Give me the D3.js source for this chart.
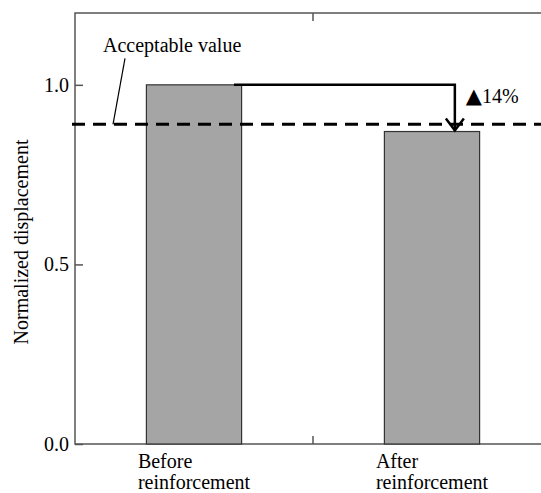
<!DOCTYPE html>
<html>
<head>
<meta charset="utf-8">
<script src="https://cdn.jsdelivr.net/npm/d3@7"></script>
<style>
  body { margin: 0; background: #fff; }
  svg { display: block; }
  text { font-family: 'Liberation Serif', 'Times New Roman', serif; fill: #000; }
</style>
</head>
<body>
<svg width="541" height="493"></svg>
<script>
const categories = ['Before reinforcement', 'After reinforcement'];
const categoryLines = [['Before', 'reinforcement'], ['After', 'reinforcement']];
const values = [1.0, 0.87];
const yTicks = [0, 0.5, 1.0];
const acceptable = 0.89;
const acceptableLabel = 'Acceptable value';
const reductionMark = '▲';
const reductionLabel = '14%';
const yLabel = 'Normalized displacement';

const LEFT = 75, RIGHT = 551, TOP = 13, BOTTOM = 444;
const FONT = 20;

const svg = d3.select('svg');

const x = d3.scaleBand().domain(categories).range([LEFT, RIGHT]).padding(0);
const y = d3.scaleLinear().domain([0, 1.2]).range([BOTTOM, TOP]);
const barW = x.bandwidth() * 0.4;
const barX = c => x(c) + (x.bandwidth() - barW) / 2;

// frame
const axisColor = '#555';
svg.append('path')
    .attr('d', `M${541},${TOP}H${LEFT}V${BOTTOM}H541`)
    .attr('fill', 'none')
    .attr('stroke', axisColor)
    .attr('stroke-width', 1.5);

// boundary ticks (inward) on bottom and top
const bx = x(categories[1]);
svg.append('line').attr('x1', bx).attr('x2', bx).attr('y1', BOTTOM).attr('y2', BOTTOM - 8)
    .attr('stroke', axisColor).attr('stroke-width', 1.5);
svg.append('line').attr('x1', bx).attr('x2', bx).attr('y1', TOP).attr('y2', TOP + 8)
    .attr('stroke', axisColor).attr('stroke-width', 1.5);

// y axis
const yAxis = svg.append('g')
    .attr('transform', `translate(${LEFT},0)`)
    .call(d3.axisLeft(y).tickValues(yTicks).tickFormat(d3.format('.1f')).tickSize(-8).tickPadding(6));
yAxis.select('.domain').remove();
yAxis.selectAll('line').attr('stroke', axisColor).attr('stroke-width', 1.5);
yAxis.selectAll('text')
    .style('font-family', "'Liberation Serif', serif")
    .style('font-size', FONT + 'px')
    .attr('fill', '#000');

svg.append('text')
    .attr('transform', `translate(28,${242}) rotate(-90)`)
    .attr('text-anchor', 'middle')
    .style('font-size', FONT + 'px')
    .text(yLabel);

// bars
svg.selectAll('.bar')
    .data(values)
    .enter()
    .append('rect')
    .classed('bar', true)
    .attr('x', (d, i) => barX(categories[i]))
    .attr('y', d => y(d))
    .attr('width', barW)
    .attr('height', d => BOTTOM - y(d))
    .attr('fill', '#a5a5a5')
    .attr('stroke', '#333')
    .attr('stroke-width', 1.2);

// category labels (left aligned block centred on the bar)
categoryLines.forEach((lines, i) => {
    const cx = x(categories[i]) + x.bandwidth() / 2;
    const t = svg.append('text').style('font-size', FONT + 'px');
    lines.forEach((l, j) => {
        t.append('tspan').attr('y', 468 + j * 21).text(l);
    });
    const w = d3.max(t.selectAll('tspan').nodes(), n => n.getComputedTextLength());
    t.selectAll('tspan').attr('x', cx - w / 2);
});

// acceptable value dashed line
const ay = y(acceptable);
svg.append('line')
    .attr('x1', LEFT - 3).attr('x2', 541)
    .attr('y1', ay).attr('y2', ay)
    .attr('stroke', '#000')
    .attr('stroke-width', 3)
    .attr('stroke-dasharray', '13,8');

svg.append('text')
    .attr('x', 103).attr('y', ay - 72)
    .style('font-size', FONT + 'px')
    .text(acceptableLabel);
svg.append('line')
    .attr('x1', 125).attr('y1', ay - 66)
    .attr('x2', 113).attr('y2', ay)
    .attr('stroke', '#000').attr('stroke-width', 1.2);

// reduction arrow
const x0 = barX(categories[0]) + barW * 0.92;
const x1 = barX(categories[1]) + barW * 0.74;
const y0 = y(values[0]);
const y1 = y(values[1]);
svg.append('path')
    .attr('d', `M${x0},${y0}H${x1}V${y1 - 1}`)
    .attr('fill', 'none')
    .attr('stroke', '#000')
    .attr('stroke-width', 2.5);
svg.append('path')
    .attr('d', `M${x1 - 9},${y1 - 13}L${x1},${y1 - 1}L${x1 + 9},${y1 - 13}`)
    .attr('fill', 'none')
    .attr('stroke', '#000')
    .attr('stroke-width', 2.5);

const rt = svg.append('text')
    .attr('x', x1 + 11).attr('y', y0 + 18)
    .style('font-size', FONT + 'px');
rt.append('tspan')
    .style('font-family', "'DejaVu Sans', sans-serif")
    .style('font-size', '21px')
    .text(reductionMark);
rt.append('tspan').text(reductionLabel);
</script>
</body>
</html>
